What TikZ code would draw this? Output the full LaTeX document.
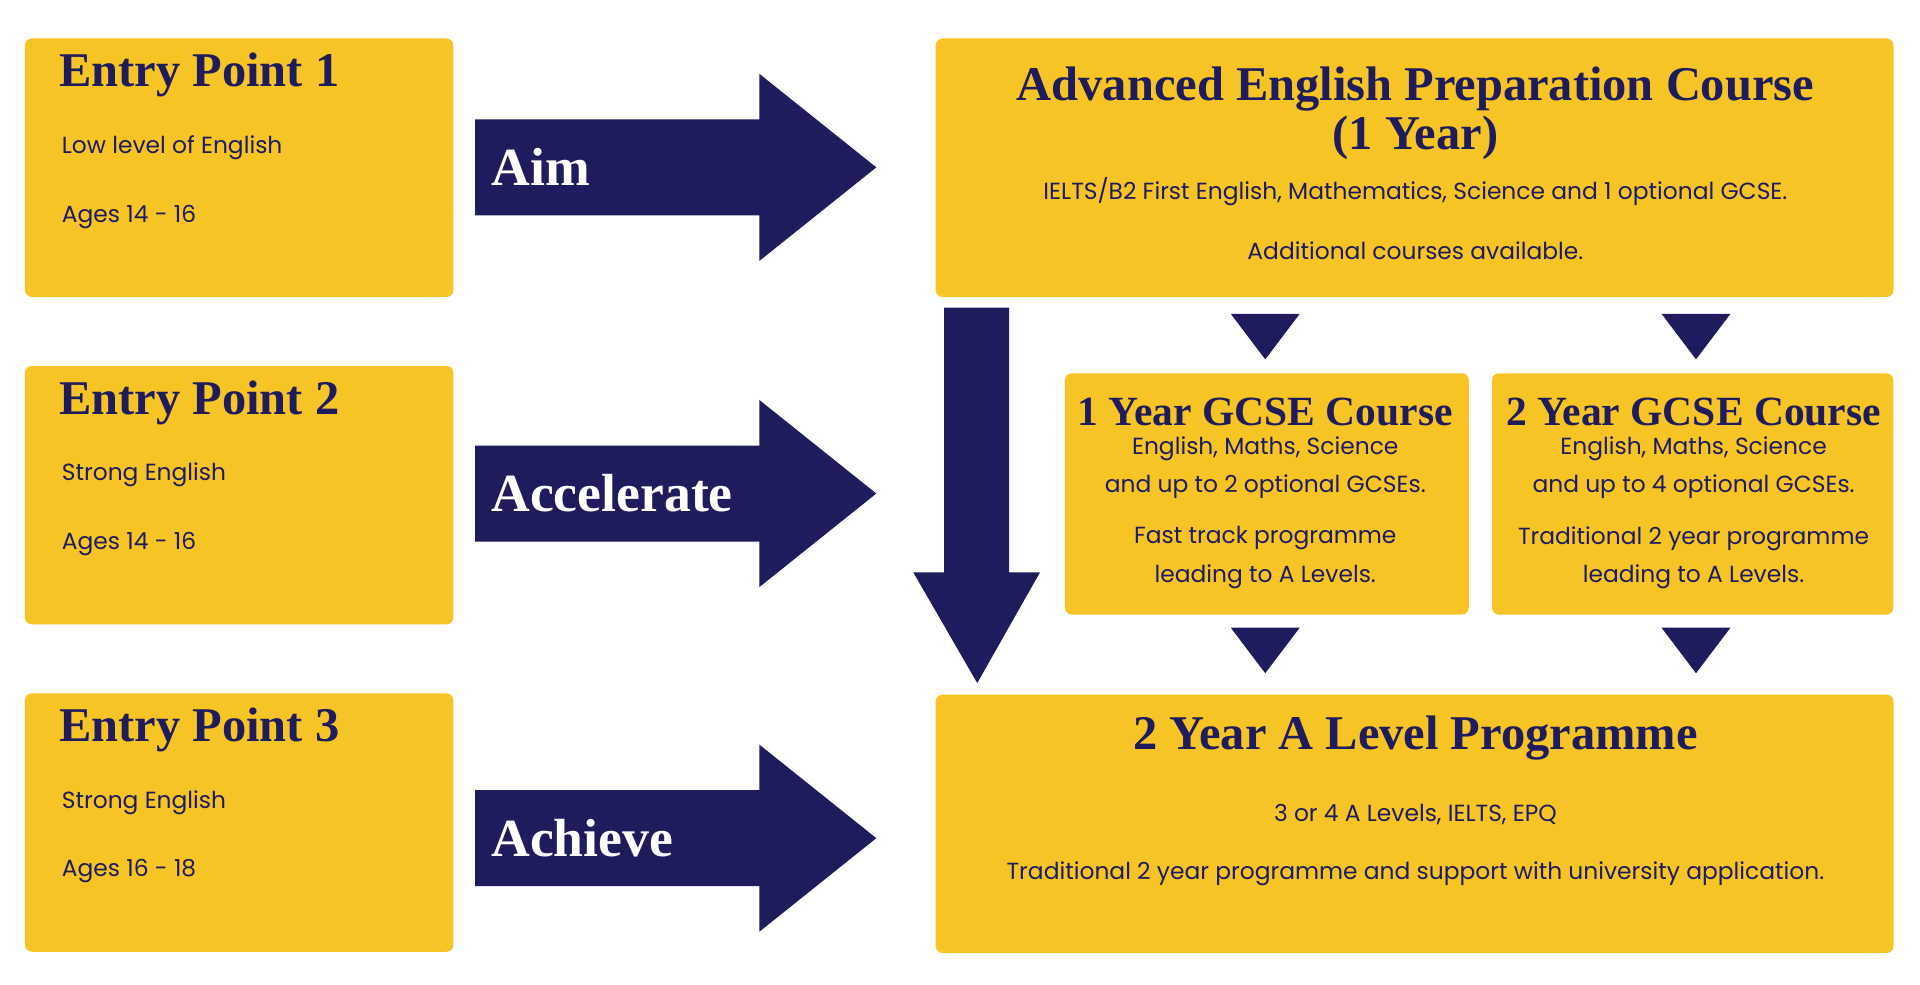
\documentclass[tikz,border=0pt]{standalone}
\usepackage{fontspec}
\setmainfont{Poppins}
\newfontfamily\headfont{Liberation Serif}
\usetikzlibrary{positioning}
\definecolor{sun}{HTML}{F7C425}
\definecolor{navy}{HTML}{1F1C5E}

\begin{document}
\begin{tikzpicture}[x=0.025cm, y=-0.025cm,
    box/.style={fill=sun, rounded corners=4pt, anchor=north west, inner sep=0pt},
    head/.style={font=\headfont\bfseries\fontsize{28}{32}\selectfont, text=navy, inner sep=0pt},
    small/.style={font=\fontsize{13.5}{22}\selectfont, text=navy, inner sep=0pt, align=center},
    tag/.style={font=\headfont\bfseries\fontsize{31}{34}\selectfont, text=white, anchor=west, inner sep=0pt}]
  \useasboundingbox (0,0) rectangle (1560,800);

  % Entry points
  \foreach \y/\n/\lvl/\age in {31/1/Low level of English/14 - 16, 297/2/Strong English/14 - 16, 563/3/Strong English/16 - 18}{
    \node[box, minimum width=8.7cm, minimum height=5.25cm] (entry\n) at (20,\y) {};
    \node[head, anchor=west] (entryhead\n) at (48,\y+30) {Entry Point \n};
    \node[small, anchor=west] (entrylvl\n) at (50,\y+89) {\lvl};
    \node[small, anchor=west] (entryage\n) at (50,\y+145) {Ages \age};
  }

  % Block arrows
  \foreach \c/\name/\txt in {136/aim/Aim, 401/acc/Accelerate, 681/ach/Achieve}{
    \fill[navy] (386,\c-39) -- (617,\c-39) -- (617,\c-76) -- (712,\c) -- (617,\c+76)
      -- (617,\c+39) -- (386,\c+39) -- cycle;
    \node[tag] (\name) at (399,\c) {\txt};
  }

  % Preparation course
  \node[box, minimum width=19.45cm, minimum height=5.25cm] (prep) at (760,31) {};
  \node[head] (prephead) at (1150,72) {Advanced English Preparation Course};
  \node[head] (prepyear) at (1150,112) {(1 Year)};
  \node[small] (prepsubj) at (1150,156) {IELTS/B2 First English, Mathematics, Science and 1 optional GCSE.};
  \node[small] (prepmore) at (1150,204) {Additional courses available.};

  % GCSE courses
  \node[box, minimum width=8.2cm, minimum height=4.9cm] (gcse1) at (865,303) {};
  \node[head, font=\headfont\bfseries\fontsize{24}{28}\selectfont] (gcsehead1) at (1028,335) {1 Year GCSE Course};
  \node[small] (gcsesubj1) at (1028,380) {English, Maths, Science\\and up to 2 optional GCSEs.};
  \node[small] (gcsetrack1) at (1028,453) {Fast track programme\\leading to A Levels.};

  \node[box, minimum width=8.15cm, minimum height=4.9cm] (gcse2) at (1212,303) {};
  \node[head, font=\headfont\bfseries\fontsize{24}{28}\selectfont] (gcsehead2) at (1376,335) {2 Year GCSE Course};
  \node[small] (gcsesubj2) at (1376,380) {English, Maths, Science\\and up to 4 optional GCSEs.};
  \node[small] (gcsetrack2) at (1376,453) {Traditional 2 year programme\\leading to A Levels.};

  % A Level programme
  \node[box, minimum width=19.45cm, minimum height=5.25cm] (alevel) at (760,564) {};
  \node[head] (alevelhead) at (1150,600) {2 Year A Level Programme};
  \node[small] (alevelsubj) at (1150,662) {3 or 4 A Levels, IELTS, EPQ};
  \node[small] (alevelmore) at (1150,710) {Traditional 2 year programme and support with university application.};

  % Small triangles
  \foreach \x in {1028,1378}{
    \fill[navy] (\x-28,255) -- (\x+28,255) -- (\x,292) -- cycle;
    \fill[navy] (\x-28,510) -- (\x+28,510) -- (\x,547) -- cycle;
  }

  % Direct route
  \fill[navy] (767,250) -- (820,250) -- (820,465) -- (845,465) -- (794,555)
    -- (742,465) -- (767,465) -- cycle;
\end{tikzpicture}
\end{document}
